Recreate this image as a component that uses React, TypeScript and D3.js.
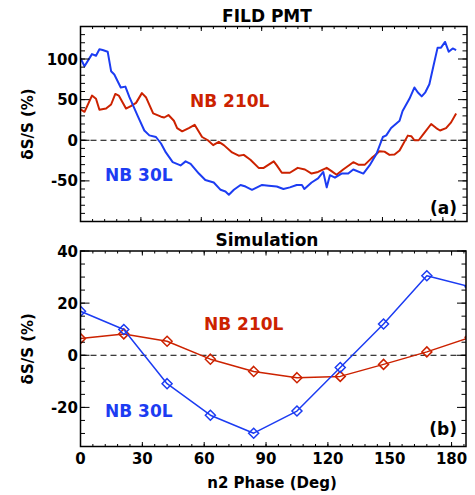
import React, { useEffect, useRef } from "react";
import * as d3 from "d3";

const blue = "#1c3cf2";
const red = "#cc2200";
const font = "'DejaVu Sans', Verdana, sans-serif";

// FILD PMT measurement: [n2 phase (deg), dS/S (%)]
const fild30L = [
	[0, 101], [2, 91], [5.7, 106], [7.7, 104], [9.4, 112], [11, 111], [13.5, 109], [15.2, 85],
	[16.8, 81], [20, 65], [22.3, 66], [24.3, 53], [28.4, 30], [31.7, 12], [34.2, 6], [37.5, 4],
	[40, -4], [42.4, -15], [45.8, -27], [49.7, -31], [52.2, -26], [54.7, -29], [58.8, -41],
	[62, -49], [66.2, -52], [69.6, -61], [72, -63], [73.7, -67], [76.2, -61], [79.5, -55],
	[82, -57], [85.2, -61], [90.2, -55], [93.5, -56], [97.5, -57], [100.8, -60], [104, -58],
	[107.4, -55], [110, -55], [111.2, -60], [114.8, -52], [118, -47], [120.6, -39], [122.3, -58],
	[123.9, -43], [126.4, -46], [129.7, -41], [133, -41], [135.5, -36], [140.5, -41], [143.6, -31],
	[147, -17], [150.2, 4], [151.9, 6], [154.3, 15], [158.5, 24], [160, 36], [163.4, 51],
	[165.9, 65], [167.5, 59], [169.5, 54], [171.3, 59], [173.3, 69], [175.3, 91], [177.4, 114],
	[179.1, 114], [181.1, 121], [182.9, 109], [184.9, 113], [186.6, 111],
];

const fild210L = [
	[0, 38], [2, 35], [5.7, 55], [7.7, 51], [9.4, 37.5], [12.7, 39], [15.2, 44], [17.3, 57],
	[19, 55], [22.6, 39], [25, 42], [27.6, 46], [30.5, 58], [32.5, 53], [36.1, 33], [40, 29],
	[41.6, 28], [43.7, 31], [46.4, 24], [48, 15], [50.5, 11], [53.8, 15], [56.7, 19], [60.4, 4],
	[63.3, 0], [65.9, -6], [68.7, -2], [71.2, -6], [75.3, -15], [78.6, -19], [81.1, -18],
	[84.4, -24], [88.5, -34], [91, -34], [93.5, -30], [96, -26], [97.5, -31], [100, -40],
	[104, -40], [107.9, -34], [111.5, -36], [114.8, -41], [118, -39], [122.3, -34], [124.7, -38],
	[127.2, -42.5], [130.5, -36], [135.5, -27], [138, -30], [141.3, -30], [144.6, -22], [146, -19],
	[148.5, -13.5], [151, -14], [153.5, -18], [156, -17.5], [158.5, -12.6], [162.6, 5.7],
	[164.3, 5], [165.9, 0], [168, 0], [170.8, 9], [174.2, 20], [176.7, 15], [178.6, 12],
	[181.6, 15], [184.1, 22], [186.6, 33],
];

// simulation
const simPhase = [0, 21, 42, 63, 84, 105, 126, 147, 168, 189];
const sim30L = [16.9, 9.9, -10.9, -23, -29.9, -21.4, -4.7, 12, 30.5, 26.3];
const sim210L = [6.4, 8.2, 5.4, -1.5, -6.2, -8.6, -8.1, -3.5, 1.3, 6.9];

const xTickValues = [0, 30, 60, 90, 120, 150, 180];
const topYTickValues = [-50, 0, 50, 100];
const bottomYTickValues = [-20, 0, 20, 40];

const App = () => {
	const ref = useRef(null);

	useEffect(() => {
		const svg = d3.select(ref.current);
		svg.selectAll("*").remove();

		const drawPanel = (p) => {
			const x = d3.scaleLinear().domain(p.xDomain).range([p.left, p.right]);
			const y = d3.scaleLinear().domain(p.yDomain).range([p.bottom, p.top]);
			const g = svg.append("g");

			g.append("clipPath")
				.attr("id", p.id)
				.append("rect")
				.attr("x", p.left)
				.attr("y", p.top)
				.attr("width", p.right - p.left)
				.attr("height", p.bottom - p.top);

			// zero line
			g.append("line")
				.attr("x1", p.left)
				.attr("x2", p.right)
				.attr("y1", y(0))
				.attr("y2", y(0))
				.attr("stroke", "#000")
				.attr("stroke-width", 1)
				.attr("stroke-dasharray", "6,4");

			const data = g.append("g").attr("clip-path", `url(#${p.id})`);
			p.series.forEach((s) => {
				const line = d3.line().x((d) => x(d[0])).y((d) => y(d[1]));
				data.append("path")
					.datum(s.points)
					.attr("d", line)
					.attr("fill", "none")
					.attr("stroke", s.color)
					.attr("stroke-width", s.width)
					.attr("stroke-linejoin", "round");
				if (s.markers) {
					data.selectAll(null)
						.data(s.points)
						.enter()
						.append("path")
						.attr("d", (d) => {
							const cx = x(d[0]), cy = y(d[1]), r = 5;
							return `M${cx},${cy - r}L${cx + r},${cy}L${cx},${cy + r}L${cx - r},${cy}Z`;
						})
						.attr("fill", "none")
						.attr("stroke", s.color)
						.attr("stroke-width", 1.5);
				}
			});

			// ticks on all four sides, pointing inwards
			const ticks = g.append("g").attr("stroke", "#000").attr("stroke-width", 1);
			const yMinor = d3.range(p.yDomain[0], p.yDomain[1] + 0.001, p.yMinorStep);
			const drawY = (vals, len) => {
				vals.forEach((v) => {
					ticks.append("line").attr("x1", p.left).attr("x2", p.left + len).attr("y1", y(v)).attr("y2", y(v));
					ticks.append("line").attr("x1", p.right).attr("x2", p.right - len).attr("y1", y(v)).attr("y2", y(v));
				});
			};
			drawY(yMinor, 4.5);
			drawY(p.yTicks, 9);
			const xMinor = d3.range(0, p.xDomain[1], 6);
			const drawX = (vals, len) => {
				vals.forEach((v) => {
					ticks.append("line").attr("y1", p.bottom).attr("y2", p.bottom - len).attr("x1", x(v)).attr("x2", x(v));
					ticks.append("line").attr("y1", p.top).attr("y2", p.top + len).attr("x1", x(v)).attr("x2", x(v));
				});
			};
			drawX(xMinor, 2.5);
			drawX(xTickValues, 4.5);

			g.append("rect")
				.attr("x", p.left)
				.attr("y", p.top)
				.attr("width", p.right - p.left)
				.attr("height", p.bottom - p.top)
				.attr("fill", "none")
				.attr("stroke", "#000")
				.attr("stroke-width", 1.5);

			// tick labels
			g.selectAll(null)
				.data(p.yTicks)
				.enter()
				.append("text")
				.attr("x", p.left - 2.5)
				.attr("y", (d) => y(d) + 5.5)
				.attr("text-anchor", "end")
				.text((d) => d);
			if (p.xLabels) {
				g.selectAll(null)
					.data(xTickValues)
					.enter()
					.append("text")
					.attr("x", (d) => x(d))
					.attr("y", p.bottom + 17.5)
					.attr("text-anchor", "middle")
					.text((d) => d);
			}

			g.append("text")
				.attr("x", 267)
				.attr("y", p.titleY)
				.attr("text-anchor", "middle")
				.attr("font-size", 17)
				.text(p.title);

			g.append("text")
				.attr("transform", `translate(33, ${(p.top + p.bottom) / 2}) rotate(-90)`)
				.attr("text-anchor", "middle")
				.text("\u03b4S/S (%)");

			p.notes.forEach((n) => {
				g.append("text")
					.attr("x", n.x)
					.attr("y", n.y)
					.attr("fill", n.color)
					.attr("font-size", 17)
					.attr("text-anchor", n.anchor || "start")
					.text(n.text);
			});
		};

		svg.attr("font-family", font).attr("font-weight", "bold").attr("font-size", 15);

		drawPanel({
			id: "clipTop",
			left: 80.5, right: 467, top: 26.5, bottom: 221.5,
			xDomain: [0, 192], yDomain: [-100, 140],
			yTicks: topYTickValues, yMinorStep: 10,
			xLabels: false,
			title: "FILD PMT", titleY: 21.5,
			series: [
				{ points: fild210L, color: red, width: 2 },
				{ points: fild30L, color: blue, width: 2 },
			],
			notes: [
				{ text: "NB 210L", x: 190, y: 107, color: red },
				{ text: "NB 30L", x: 105, y: 181, color: blue },
				{ text: "(a)", x: 457, y: 213.5, color: "#000", anchor: "end" },
			],
		});

		drawPanel({
			id: "clipBottom",
			left: 80.5, right: 466, top: 251, bottom: 446.5,
			xDomain: [0, 187], yDomain: [-35, 40],
			yTicks: bottomYTickValues, yMinorStep: 5,
			xLabels: true,
			title: "Simulation", titleY: 246,
			series: [
				{ points: simPhase.map((d, i) => [d, sim210L[i]]), color: red, width: 1.5, markers: true },
				{ points: simPhase.map((d, i) => [d, sim30L[i]]), color: blue, width: 1.5, markers: true },
			],
			notes: [
				{ text: "NB 210L", x: 204, y: 330, color: red },
				{ text: "NB 30L", x: 105, y: 416.5, color: blue },
				{ text: "(b)", x: 457, y: 434.5, color: "#000", anchor: "end" },
			],
		});

		svg.append("text")
			.attr("x", 272)
			.attr("y", 488)
			.attr("text-anchor", "middle")
			.text("n2 Phase (Deg)");
	}, []);

	return (
		<svg
			ref={ref}
			width={475}
			height={495}
			style={{ position: "absolute", left: 0, top: 0, background: "#fff" }}
		></svg>
	);
};

export default App;
